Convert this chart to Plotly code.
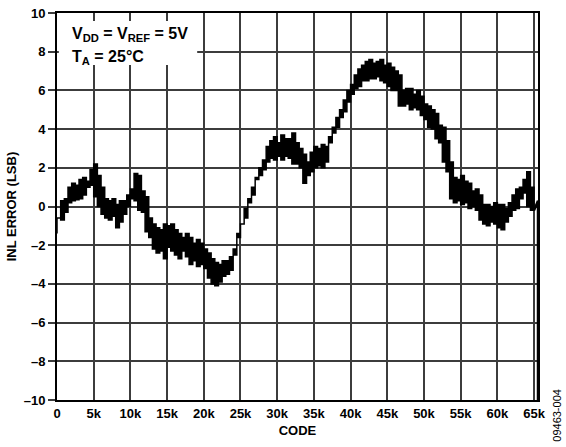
import plotly.graph_objects as go

# INL error envelope (code, low, high) in LSB
codes = [0, 500, 1000, 1500, 2000, 2500, 3000, 3500, 4000, 4500,
         5000, 5500, 6000, 6500, 7000, 7500, 8000, 8500, 9000, 9500,
         10000, 10500, 11000, 11500, 12000, 12500, 13000, 13500, 14000, 14500,
         15000, 15500, 16000, 16500, 17000, 17500, 18000, 18500, 19000, 19500,
         20000, 20500, 21000, 21500, 22000, 22500, 23000, 23500, 24000, 24500,
         25000, 25500, 26000, 26500, 27000, 27500, 28000, 28500, 29000, 29500,
         30000, 30500, 31000, 31500, 32000, 32500, 33000, 33500, 34000, 34500,
         35000, 35500, 36000, 36500, 37000, 37500, 38000, 38500, 39000, 39500,
         40000, 40500, 41000, 41500, 42000, 42500, 43000, 43500, 44000, 44500,
         45000, 45500, 46000, 46500, 47000, 47500, 48000, 48500, 49000, 49500,
         50000, 50500, 51000, 51500, 52000, 52500, 53000, 53500, 54000, 54500,
         55000, 55500, 56000, 56500, 57000, 57500, 58000, 58500, 59000, 59500,
         60000, 60500, 61000, 61500, 62000, 62500, 63000, 63500, 64000, 64500,
         65000, 65535]
inl_lo = [-1.4, -0.6, -0.7, -0.3, 0.2, 0.3, 0.35, 0.4, 0.6, 1.0,
          1.1, 0.5, 0.0, -0.4, -0.6, -0.7, -0.5, -1.1, -0.8, -0.4,
          0.0, 0.4, 0.3, -0.2, -0.3, -1.3, -1.6, -2.2, -2.4, -2.3,
          -2.7, -2.1, -2.3, -2.5, -2.7, -2.3, -2.6, -3.0, -2.8, -3.1,
          -3.0, -3.2, -3.7, -4.0, -4.1, -3.9, -3.6, -3.5, -3.3, -2.2,
          -1.6, -0.9, -0.6, 0.2, 0.6, 1.4, 1.6, 1.9, 2.3, 2.5,
          2.4, 2.6, 2.4, 2.6, 2.5, 2.2, 2.2, 2.0, 1.2, 1.6,
          1.8, 2.0, 2.1, 2.0, 2.3, 3.3, 3.8, 4.1, 4.6, 4.9,
          5.4, 5.8, 6.1, 6.2, 6.5, 6.5, 6.6, 6.6, 6.7, 6.5,
          6.4, 6.2, 6.0, 6.0, 5.2, 5.2, 5.3, 5.0, 5.1, 5.0,
          4.7, 4.5, 4.1, 4.0, 3.5, 3.3, 2.3, 1.8, 0.4, 0.2,
          0.3, 0.1, 0.2, -0.1, 0.0, -0.2, -0.7, -0.9, -1.0, -0.8,
          -0.9, -1.1, -1.2, -0.8, -0.5, -0.2, -0.1, 0.4, 0.7, 0.0,
          -0.2, -10.0]
inl_hi = [-0.6, 0.3, 0.4, 1.0, 1.2, 1.1, 1.4, 1.5, 1.3, 1.9,
          2.2, 1.6, 1.0, 0.4, 0.3, 0.4, 0.1, 0.3, 0.3, 0.6,
          0.9, 1.7, 1.6, 0.8, 0.5, -0.6, -0.9, -1.1, -1.2, -0.9,
          -1.0, -0.9, -1.2, -1.4, -1.6, -1.4, -1.6, -1.9, -1.7, -1.9,
          -2.2, -2.4, -2.7, -2.9, -3.0, -2.8, -2.8, -2.6, -2.5, -1.4,
          -0.9, -0.1, 0.4, 1.0, 1.5, 2.0, 2.4, 3.1, 3.4, 3.6,
          3.3, 3.7, 3.5, 3.5, 3.8, 3.3, 3.0, 2.7, 2.3, 2.8,
          3.1, 3.0, 3.2, 3.1, 3.6, 4.1, 4.6, 5.0, 5.5, 6.0,
          6.3, 6.8, 7.1, 7.3, 7.5, 7.6, 7.4, 7.5, 7.6, 7.3,
          7.4, 7.2, 7.0, 6.8, 6.0, 6.1, 6.1, 5.8, 6.0, 5.7,
          5.3, 5.2, 5.0, 4.8, 4.2, 4.1, 3.4, 2.3, 1.5, 1.4,
          1.6, 1.3, 1.2, 0.8, 0.9, 0.6, 0.1, 0.1, 0.0, 0.2,
          0.1, 0.1, -0.1, 0.2, 0.6, 0.9, 1.0, 1.4, 1.8, 1.0,
          0.6, 0.3]

x_tickvals = [0, 5000, 10000, 15000, 20000, 25000, 30000, 35000, 40000,
              45000, 50000, 55000, 60000, 65000]
x_ticktext = ["0", "5k", "10k", "15k", "20k", "25k", "30k", "35k", "40k",
              "45k", "50k", "55k", "60k", "65k"]
y_tickvals = [-10, -8, -6, -4, -2, 0, 2, 4, 6, 8, 10]
y_ticktext = ["–10", "–8", "–6", "–4", "–2", "0", "2", "4", "6", "8", "10"]

FONT = "Arial, 'Liberation Sans', Helvetica, sans-serif"
GRID = "rgb(60,60,60)"

# band polygon: high envelope forward, low envelope backward (stepped edges)
band_x = codes[:-1] + codes[-2::-1]
band_y = inl_hi[:-1] + inl_lo[-2::-1]

fig = go.Figure()
fig.add_trace(go.Scatter(x=band_x, y=band_y, mode="lines", fill="toself",
                         fillcolor="black",
                         line=dict(color="black", width=1.5, shape="hv"),
                         showlegend=False, hoverinfo="skip"))
# final code: drop to the bottom
fig.add_trace(go.Scatter(x=[codes[-2], codes[-1], codes[-1]],
                         y=[inl_lo[-2], inl_hi[-1], inl_lo[-1]], mode="lines",
                         line=dict(color="black", width=2.5),
                         showlegend=False, hoverinfo="skip"))

fig.add_shape(type="rect", xref="x", yref="y", x0=250, x1=19100, y0=7.31, y1=9.59,
              fillcolor="white", line=dict(width=0), layer="above")

fig.add_annotation(xref="paper", yref="paper", x=0.028, y=0.975, xanchor="left", yanchor="top",
                   text="V<sub>DD</sub> = V<sub>REF</sub> = 5V", showarrow=False,
                   font=dict(family=FONT, size=16, color="black", weight="bold"))
fig.add_annotation(xref="paper", yref="paper", x=0.028, y=0.915, xanchor="left", yanchor="top",
                   text="T<sub>A</sub> = 25°C", showarrow=False,
                   font=dict(family=FONT, size=16, color="black", weight="bold"))
fig.add_annotation(xref="paper", yref="paper", x=1.04, y=-0.04, xanchor="center", yanchor="middle",
                   text="09463-004", textangle=-90, showarrow=False,
                   font=dict(family=FONT, size=11, color="black"))

fig.update_layout(
    width=566, height=447,
    margin=dict(l=57, r=28, t=13, b=47, autoexpand=False),
    paper_bgcolor="white", plot_bgcolor="white",
    showlegend=False,
    xaxis=dict(range=[0, 65535], tickmode="array", tickvals=x_tickvals, ticktext=x_ticktext,
               showgrid=True, gridcolor=GRID, gridwidth=2,
               showline=True, linecolor="black", linewidth=2, mirror=True,
               ticks="", zeroline=False, automargin=False,
               tickfont=dict(family=FONT, size=13, color="black", weight="bold"),
               title=dict(text="CODE", standoff=6,
                          font=dict(family=FONT, size=13, color="black", weight="bold"))),
    yaxis=dict(range=[-10, 10], tickmode="array", tickvals=y_tickvals, ticktext=y_ticktext,
               showgrid=True, gridcolor=GRID, gridwidth=2,
               showline=True, linecolor="black", linewidth=2, mirror=True,
               ticks="outside", ticklen=7, tickwidth=2, tickcolor=GRID,
               zeroline=False, automargin=False,
               tickfont=dict(family=FONT, size=13, color="black", weight="bold"),
               title=dict(text="INL ERROR (LSB)", standoff=4,
                          font=dict(family=FONT, size=13, color="black", weight="bold"))),
)

fig.write_html("out.html", config={"displayModeBar": False},
               post_script="document.body.style.margin='0px';")
